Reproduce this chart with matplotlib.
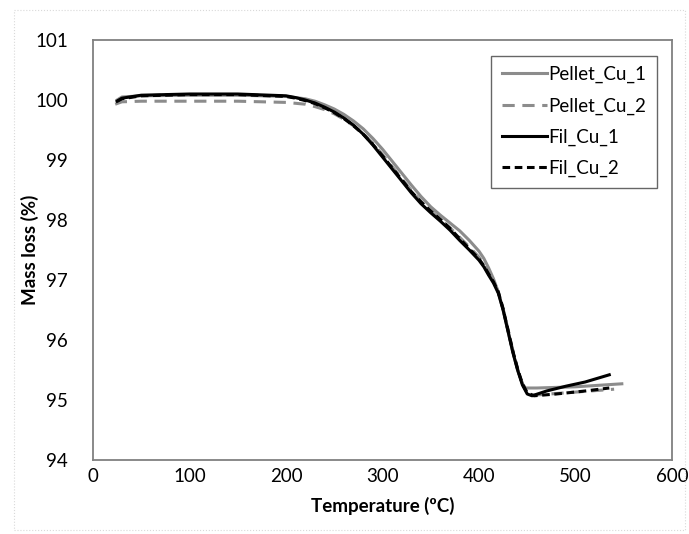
import matplotlib.pyplot as plt
from matplotlib.patches import Rectangle

# TGA data
pellet1_t = [25, 30, 50, 100, 150, 200, 220, 230, 240, 250, 260, 270, 280, 290, 300, 310, 320, 330, 340, 350,
             360, 370, 380, 390, 400, 405, 410, 415, 420, 425, 430, 435, 440, 445, 448, 460, 500, 548]
pellet1_m = [100.0, 100.05, 100.07, 100.08, 100.08, 100.06, 100.02, 99.98, 99.92, 99.85, 99.76, 99.65, 99.52, 99.36, 99.18, 98.98, 98.78, 98.58, 98.39, 98.22,
             98.08, 97.95, 97.82, 97.66, 97.48, 97.36, 97.2, 97.02, 96.8, 96.5, 96.15, 95.8, 95.5, 95.27, 95.2, 95.2, 95.22, 95.27]

pellet2_t = [23, 30, 50, 100, 150, 200, 220, 230, 240, 250, 260, 270, 280, 290, 300, 310, 320, 330, 340, 350,
             360, 370, 380, 390, 400, 405, 410, 415, 420, 425, 430, 435, 440, 445, 450, 456, 490, 540]
pellet2_m = [99.93, 99.97, 99.98, 99.98, 99.98, 99.96, 99.93, 99.89, 99.84, 99.77, 99.68, 99.57, 99.44, 99.28, 99.09, 98.89, 98.69, 98.49, 98.31, 98.15,
             98.01, 97.87, 97.71, 97.55, 97.38, 97.26, 97.12, 96.98, 96.8, 96.52, 96.18, 95.83, 95.52, 95.27, 95.12, 95.08, 95.12, 95.18]

fil1_t = [25, 30, 50, 100, 150, 200, 210, 220, 230, 240, 250, 260, 270, 280, 290, 300, 310, 320, 330, 340, 350,
          360, 370, 380, 390, 400, 405, 410, 415, 420, 425, 430, 435, 440, 445, 450, 455, 470, 490, 510, 535]
fil1_m = [99.98, 100.03, 100.08, 100.1, 100.1, 100.07, 100.04, 100.0, 99.95, 99.88, 99.8, 99.7, 99.58, 99.43, 99.25, 99.05, 98.85, 98.65, 98.45, 98.27, 98.12,
          97.98, 97.83, 97.66, 97.5, 97.33, 97.22, 97.08, 96.95, 96.78, 96.5, 96.15, 95.8, 95.5, 95.25, 95.1, 95.07, 95.15, 95.23, 95.3, 95.42]

fil2_t = [25, 30, 50, 100, 150, 200, 210, 220, 230, 240, 250, 260, 270, 280, 290, 300, 310, 320, 330, 340, 350,
          360, 370, 380, 390, 400, 405, 410, 415, 420, 425, 430, 435, 440, 445, 450, 457, 480, 510, 535]
fil2_m = [99.98, 100.02, 100.07, 100.09, 100.09, 100.06, 100.03, 99.99, 99.94, 99.87, 99.79, 99.69, 99.57, 99.43, 99.26, 99.07, 98.87, 98.67, 98.47, 98.3, 98.15,
          98.01, 97.86, 97.69, 97.52, 97.35, 97.24, 97.1, 96.97, 96.8, 96.52, 96.17, 95.82, 95.52, 95.27, 95.12, 95.07, 95.1, 95.15, 95.2]

plt.rcParams['font.family'] = ['Lato', 'DejaVu Sans']

fig = plt.figure(figsize=(6.89, 5.34), dpi=100)
ax = fig.add_axes([93 / 689, 1 - 460 / 534, (672 - 93) / 689, (460 - 40) / 534])

gray = '#8c8c8c'
ax.plot(pellet1_t, pellet1_m, color=gray, lw=2.2, label='Pellet_Cu_1')
ax.plot(pellet2_t, pellet2_m, color=gray, lw=2.2, ls=(0, (4, 2.5)), label='Pellet_Cu_2')
ax.plot(fil1_t, fil1_m, color='black', lw=2.2, label='Fil_Cu_1')
ax.plot(fil2_t, fil2_m, color='black', lw=2.2, ls=(0, (2.5, 1.5)), label='Fil_Cu_2')

ax.set_xlim(0, 600)
ax.set_ylim(94, 101)
ax.set_xticks([0, 100, 200, 300, 400, 500, 600])
ax.set_yticks([94, 95, 96, 97, 98, 99, 100, 101])
ax.tick_params(length=0, labelsize=13.5, pad=6)
ax.tick_params(axis='y', pad=18)
for s in ax.spines.values():
    s.set_color('#808080')
    s.set_linewidth(1.3)

ax.set_xlabel('Temperature (ºC)', fontsize=13.5, fontweight='bold', labelpad=8)
ax.set_ylabel('Mass loss (%)', fontsize=13.5, fontweight='bold')
ax.yaxis.set_label_coords(-0.094, 0.5)

leg = ax.legend(loc='upper right', fontsize=13.5, frameon=True, fancybox=False,
                handlelength=2.4, handletextpad=0.1, labelspacing=0.75,
                borderpad=0.55, bbox_to_anchor=(0.99, 0.985))
leg.get_frame().set_edgecolor('#404040')
leg.get_frame().set_linewidth(1.0)

fig.patches.append(Rectangle((14 / 689, 4 / 534), 671 / 689, 520 / 534, transform=fig.transFigure,
                             fill=False, edgecolor='#d9d9d9', lw=0.8, ls=':'))

fig.savefig('out.png', dpi=100)
